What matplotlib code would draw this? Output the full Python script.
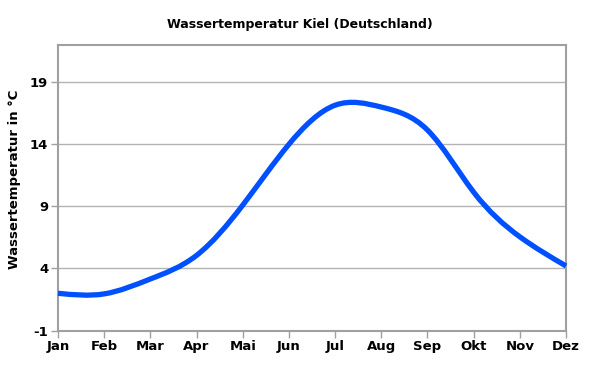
import matplotlib
matplotlib.use("Agg")
import matplotlib.pyplot as plt
import numpy as np
from matplotlib.path import Path
from matplotlib.patches import PathPatch

months = ["Jan", "Feb", "Mar", "Apr", "Mai", "Jun", "Jul", "Aug", "Sep", "Okt", "Nov", "Dez"]
temps = [2.0, 1.95, 3.15, 5.05, 9.1, 14.0, 17.15, 17.0, 15.15, 10.15, 6.55, 4.2]
yticks = [-1, 4, 9, 14, 19]

plt.rcParams['font.family'] = ['DejaVu Sans']
plt.rcParams['axes.unicode_minus'] = False
fig = plt.figure(figsize=(5.89, 3.73), dpi=100)
ax = fig.add_axes([58/589, 1 - 330.5/373, (566-58)/589, (330.5-45)/373])

x = np.arange(len(months), dtype=float)
y = np.array(temps)
n = len(x)
# natural cubic spline slopes (unit spacing), drawn as cubic Bezier segments
A = np.zeros((n, n))
b = np.zeros(n)
A[0, 0], A[0, 1], b[0] = 2, 1, 3 * (y[1] - y[0])
A[-1, -2], A[-1, -1], b[-1] = 1, 2, 3 * (y[-1] - y[-2])
for i in range(1, n - 1):
    A[i, i-1], A[i, i], A[i, i+1] = 1, 4, 1
    b[i] = 3 * (y[i+1] - y[i-1])
d = np.linalg.solve(A, b)
verts = [(x[0], y[0])]
codes = [Path.MOVETO]
for i in range(n - 1):
    verts += [(x[i] + 1/3, y[i] + d[i]/3), (x[i+1] - 1/3, y[i+1] - d[i+1]/3), (x[i+1], y[i+1])]
    codes += [Path.CURVE4] * 3
ax.add_patch(PathPatch(Path(verts, codes), facecolor='none', edgecolor='#0050ff',
                       lw=3.8, capstyle='butt', joinstyle='round', zorder=3, clip_on=False))

ax.set_xlim(0, 11)
ax.set_ylim(-1, 22)
ax.set_xticks(x)
ax.set_xticklabels(months)
ax.set_yticks(yticks)
ax.grid(axis='y', color='#b3b3b3', lw=1)
ax.set_axisbelow(True)
for s in ax.spines.values():
    s.set_color('#a0a0a0')
    s.set_linewidth(1.5)
ax.tick_params(axis='both', direction='out', length=5, color='#a0a0a0', width=1,
               labelsize=9.5, pad=2)
for lbl in ax.get_xticklabels() + ax.get_yticklabels():
    lbl.set_fontweight('bold')
ax.set_title("Wassertemperatur Kiel (Deutschland)", fontsize=9, fontweight='bold', pad=12,
             x=0.477)
ax.set_ylabel("Wassertemperatur in °C", fontsize=9.5, fontweight='bold')
ax.yaxis.set_label_coords(-0.072, 0.528)

fig.savefig("out.png", dpi=100, facecolor='white')
